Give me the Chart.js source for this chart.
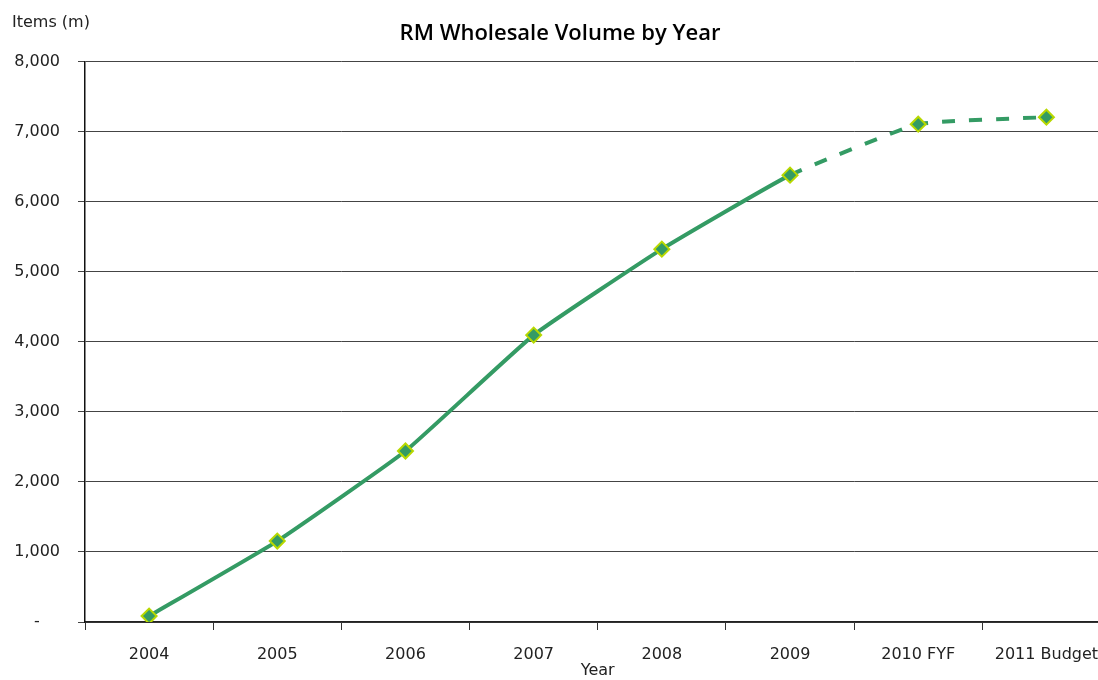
<!DOCTYPE html>
<html lang="en">
<head>
    <meta charset="UTF-8">
    <title>RM Wholesale Volume by Year</title>
    <script src="https://cdn.jsdelivr.net/npm/chart.js@4.4.0/dist/chart.umd.min.js"></script>
    <style>
        body {
            margin: 0;
            padding: 0;
            background: white;
            overflow: hidden;
            font-family: 'DejaVu Sans', sans-serif;
        }
        #wrap {
            position: relative;
            width: 1120px;
            height: 680px;
        }
        #yTitle {
            position: absolute;
            left: 12px;
            top: 12px;
            font-size: 16px;
            color: #222;
        }
    </style>
</head>
<body>

<div id="wrap">
    <canvas id="volChart" width="1120" height="680"></canvas>
    <div id="yTitle">Items (m)</div>
</div>

<script>
    // Data
    const years = ['2004', '2005', '2006', '2007', '2008', '2009', '2010 FYF', '2011 Budget'];
    const volumes = [85, 1155, 2440, 4094, 5321, 6377, 7104, 7204];
    const forecastFrom = 5; // dashed after 2009

    const green = '#349b64';

    const ctx = document.getElementById('volChart').getContext('2d');
    const volChart = new Chart(ctx, {
        type: 'line',
        data: {
            labels: years,
            datasets: [{
                label: 'Volume',
                data: volumes,
                borderColor: green,
                borderWidth: 4,
                tension: 0.12,
                pointStyle: 'rectRot',
                pointRadius: 7.5,
                pointBackgroundColor: green,
                pointBorderColor: '#b8d800',
                pointBorderWidth: 2,
                segment: {
                    borderDash: c => c.p0DataIndex >= forecastFrom ? [13, 14] : undefined
                }
            }]
        },
        options: {
            responsive: false,
            animation: false,
            layout: { padding: 0 },
            plugins: {
                legend: { display: false },
                tooltip: { enabled: false },
                title: {
                    display: true,
                    text: 'RM Wholesale Volume by Year',
                    color: '#000',
                    font: { family: 'Open Sans', size: 22, weight: '600' },
                    padding: { top: 21, bottom: 14 }
                }
            },
            scales: {
                x: {
                    offset: true,
                    afterFit: s => { s.height = 58; },
                    grid: {
                        offset: true,
                        drawOnChartArea: false,
                        drawTicks: true,
                        tickLength: 8,
                        color: '#333'
                    },
                    border: { color: '#222', width: 1.5 },
                    ticks: {
                        color: '#222',
                        font: { family: 'DejaVu Sans', size: 16 },
                        padding: 15,
                        maxRotation: 0
                    },
                    title: {
                        display: true,
                        text: 'Year',
                        color: '#222',
                        font: { family: 'DejaVu Sans', size: 16 },
                        padding: { top: 0, bottom: 0 }
                    }
                },
                y: {
                    min: 0,
                    max: 8000,
                    afterFit: s => { s.width = 85; },
                    grid: {
                        color: '#444',
                        lineWidth: 1,
                        tickLength: 7
                    },
                    border: { color: '#111', width: 1.5 },
                    ticks: {
                        stepSize: 1000,
                        color: '#222',
                        font: { family: 'DejaVu Sans', size: 16 },
                        padding: 18,
                        callback: v => v === 0 ? '-    ' : v.toLocaleString('en-US')
                    }
                }
            }
        }
    });
</script>

</body>
</html>
